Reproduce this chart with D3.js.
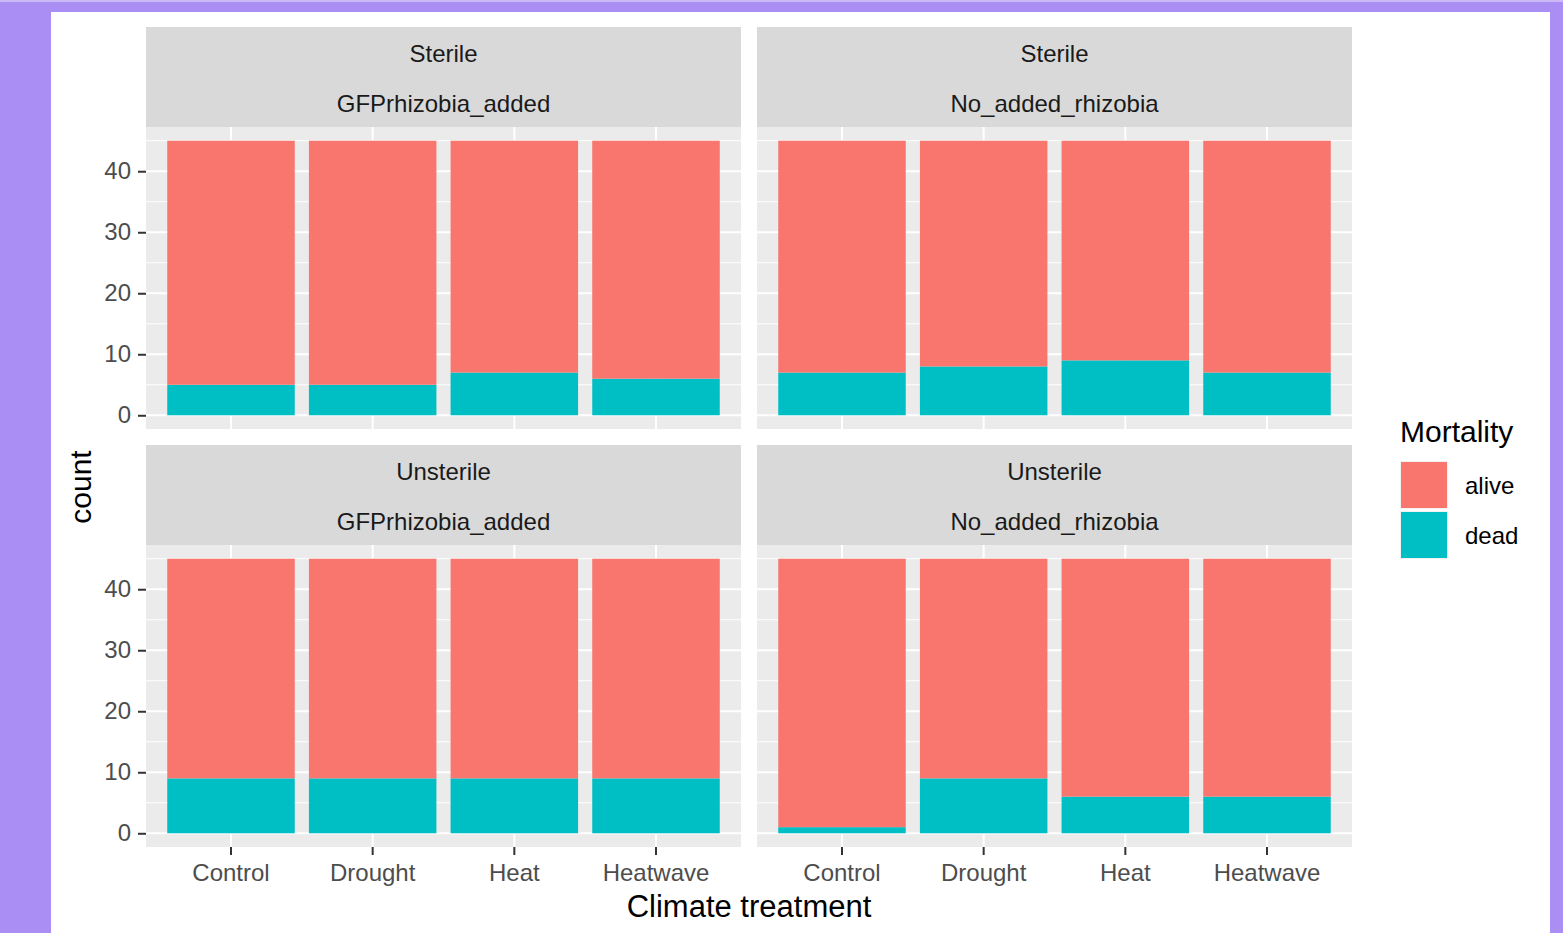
<!DOCTYPE html>
<html>
<head>
<meta charset="utf-8">
<script src="https://cdn.jsdelivr.net/npm/d3@7.9.0/dist/d3.min.js"></script>
<style>
  html, body { margin: 0; padding: 0; background: #aa8ef4; }
  svg { display: block; font-family: "Liberation Sans", Arial, sans-serif; }
</style>
</head>
<body>
<svg id="chart" width="1563" height="933"></svg>
<script>
// Chart data
const treatments = ["Control", "Drought", "Heat", "Heatwave"];
const soilRows = ["Sterile", "Unsterile"];
const rhizobiaCols = ["GFPrhizobia_added", "No_added_rhizobia"];
const mortality = ["alive", "dead"];
const mortalityColors = ["#F8766D", "#00BFC4"];
const yTicks = [0, 10, 20, 30, 40];

// counts per panel, in treatment order
const aliveSterileGFP = [40, 40, 38, 39];
const deadSterileGFP = [5, 5, 7, 6];
const aliveSterileNo = [38, 37, 36, 38];
const deadSterileNo = [7, 8, 9, 7];
const aliveUnsterileGFP = [36, 36, 36, 36];
const deadUnsterileGFP = [9, 9, 9, 9];
const aliveUnsterileNo = [44, 36, 39, 39];
const deadUnsterileNo = [1, 9, 6, 6];

const panels = [
  { soil: "Sterile", rhiz: "GFPrhizobia_added", alive: aliveSterileGFP, dead: deadSterileGFP, row: 0, col: 0 },
  { soil: "Sterile", rhiz: "No_added_rhizobia", alive: aliveSterileNo, dead: deadSterileNo, row: 0, col: 1 },
  { soil: "Unsterile", rhiz: "GFPrhizobia_added", alive: aliveUnsterileGFP, dead: deadUnsterileGFP, row: 1, col: 0 },
  { soil: "Unsterile", rhiz: "No_added_rhizobia", alive: aliveUnsterileNo, dead: deadUnsterileNo, row: 1, col: 1 }
];

const svg = d3.select("#chart");

// white page on purple background
svg.append("rect").attr("x", 0).attr("y", 0).attr("width", 1563).attr("height", 2).attr("fill", "#cbb9f8");
svg.append("rect").attr("x", 51).attr("y", 12).attr("width", 1499).attr("height", 921).attr("fill", "#ffffff");

// panel geometry
const colX = [146, 757];
const panelW = 595;
const stripTop = [27, 445];
const stripH = 100;
const panelH = 302;

const color = d3.scaleOrdinal().domain(mortality).range(mortalityColors);
const stack = d3.stack().keys(["dead", "alive"]);

panels.forEach(p => {
  const x0 = colX[p.col];
  const sTop = stripTop[p.row];
  const pTop = sTop + stripH;
  const g = svg.append("g");

  // strip
  g.append("rect").attr("x", x0).attr("y", sTop).attr("width", panelW).attr("height", stripH).attr("fill", "#d9d9d9");
  g.append("text").attr("x", x0 + panelW / 2).attr("y", sTop + 27).attr("dy", "0.35em")
    .attr("text-anchor", "middle").attr("font-size", 24).attr("fill", "#1a1a1a").text(p.soil);
  g.append("text").attr("x", x0 + panelW / 2).attr("y", sTop + 77).attr("dy", "0.35em")
    .attr("text-anchor", "middle").attr("font-size", 24).attr("fill", "#1a1a1a").text(p.rhiz);

  // scales
  const x = d3.scaleBand().domain(treatments).range([x0, x0 + panelW]).paddingInner(0.1).paddingOuter(0.15);
  const y = d3.scaleLinear().domain([-2.25, 47.25]).range([pTop + panelH, pTop]);

  // background + grid
  g.append("rect").attr("x", x0).attr("y", pTop).attr("width", panelW).attr("height", panelH).attr("fill", "#ebebeb");
  g.selectAll(".minor").data([5, 15, 25, 35, 45]).enter().append("line")
    .attr("x1", x0).attr("x2", x0 + panelW).attr("y1", d => y(d)).attr("y2", d => y(d))
    .attr("stroke", "#fff").attr("stroke-width", 1);
  g.selectAll(".major").data(yTicks).enter().append("line")
    .attr("x1", x0).attr("x2", x0 + panelW).attr("y1", d => y(d)).attr("y2", d => y(d))
    .attr("stroke", "#fff").attr("stroke-width", 2);
  g.selectAll(".vmajor").data(treatments).enter().append("line")
    .attr("x1", d => x(d) + x.bandwidth() / 2).attr("x2", d => x(d) + x.bandwidth() / 2)
    .attr("y1", pTop).attr("y2", pTop + panelH)
    .attr("stroke", "#fff").attr("stroke-width", 2);

  // stacked bars
  const rows = treatments.map((t, i) => ({ treatment: t, alive: p.alive[i], dead: p.dead[i] }));
  const series = stack(rows);
  g.selectAll(".layer").data(series).enter().append("g")
    .attr("fill", d => color(d.key))
    .selectAll("rect").data(d => d).enter().append("rect")
    .attr("x", d => x(d.data.treatment))
    .attr("width", x.bandwidth())
    .attr("y", d => y(d[1]))
    .attr("height", d => y(d[0]) - y(d[1]));

  // y axis on left column
  if (p.col === 0) {
    const ya = g.append("g").attr("transform", `translate(${x0},0)`)
      .call(d3.axisLeft(y).tickValues(yTicks).tickSize(8).tickPadding(7));
    ya.select(".domain").remove();
    ya.selectAll(".tick line").attr("stroke", "#333").attr("stroke-width", 2);
    ya.selectAll(".tick text").attr("font-size", 24).attr("fill", "#4d4d4d").attr("font-family", "Liberation Sans, Arial, sans-serif");
  }
  // x axis on bottom row
  if (p.row === 1) {
    const xa = g.append("g").attr("transform", `translate(0,${pTop + panelH})`)
      .call(d3.axisBottom(x).tickSize(8).tickPadding(9));
    xa.select(".domain").remove();
    xa.selectAll(".tick line").attr("stroke", "#333").attr("stroke-width", 2);
    xa.selectAll(".tick text").attr("font-size", 24).attr("fill", "#4d4d4d").attr("font-family", "Liberation Sans, Arial, sans-serif");
  }
});

// axis titles
svg.append("text").attr("x", 749).attr("y", 917).attr("text-anchor", "middle")
  .attr("font-size", 31).attr("fill", "#000").text("Climate treatment");
svg.append("text").attr("transform", "translate(91,487) rotate(-90)").attr("text-anchor", "middle")
  .attr("font-size", 30).attr("fill", "#000").text("count");

// legend
const legend = svg.append("g").attr("transform", "translate(1400,0)");
legend.append("text").attr("x", 0).attr("y", 442).attr("font-size", 30).attr("fill", "#000").text("Mortality");
mortality.forEach((m, i) => {
  const yy = 461 + i * 50;
  legend.append("rect").attr("x", 0).attr("y", yy).attr("width", 48).attr("height", 48).attr("fill", "#f2f2f2");
  legend.append("rect").attr("x", 1).attr("y", yy + 1).attr("width", 46).attr("height", 46).attr("fill", color(m));
  legend.append("text").attr("x", 65).attr("y", yy + 25).attr("dy", "0.35em")
    .attr("font-size", 24).attr("fill", "#000").text(m);
});
</script>
</body>
</html>
